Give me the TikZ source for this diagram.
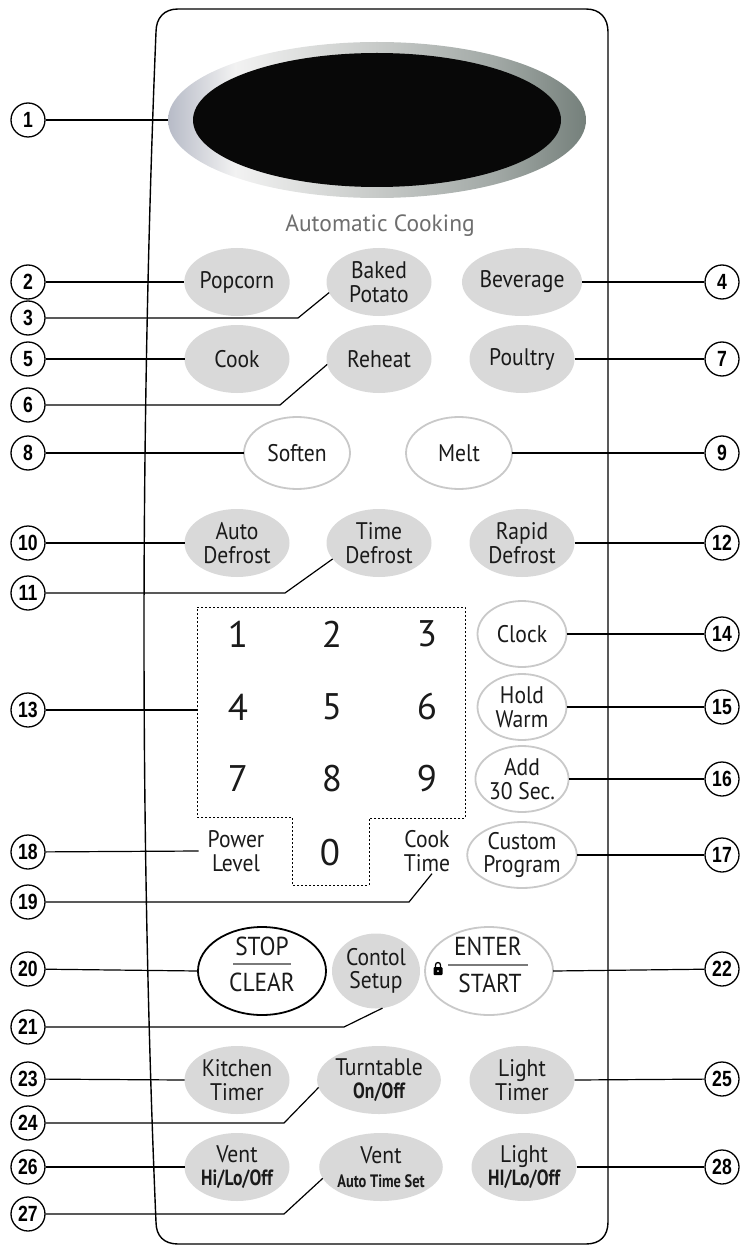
\documentclass[tikz,border=0pt]{standalone}
\usepackage{fontspec}
\setmainfont{PT Sans}
\newfontfamily\keyfamily{PT Sans}[FakeStretch=0.9]
\newfontfamily\narrowfont{PT Sans}[FakeStretch=0.8]
\newfontfamily\calloutfont{Liberation Sans}[FakeStretch=0.8]
\usetikzlibrary{shapes.geometric}

\definecolor{keygray}{HTML}{D9D9D9}
\definecolor{rimgray}{HTML}{C9C9C9}
\definecolor{keytext}{HTML}{1A1A1A}
\definecolor{titlegray}{HTML}{6E6E6E}
\definecolor{bargray}{HTML}{7A7A7A}
\definecolor{ringleft}{HTML}{B7BBC7}
\definecolor{ringlight}{HTML}{F2F2F2}
\definecolor{ringmid}{HTML}{C7CAC8}
\definecolor{ringshadow}{HTML}{A2A9A6}
\definecolor{ringdark}{HTML}{75807B}

\pgfdeclarehorizontalshading{ringshade}{100bp}{color(0bp)=(ringleft); color(25bp)=(ringleft);
  color(33bp)=(ringlight); color(50bp)=(ringmid); color(64bp)=(ringshadow);
  color(75bp)=(ringdark); color(100bp)=(ringdark)}

\newcommand\keyfont{\keyfamily\fontsize{24}{23.5}\selectfont}
\newcommand\boldkey{\narrowfont\bfseries\fontsize{22}{23}\selectfont}

\begin{document}
\begin{tikzpicture}[
    x=1pt, y=-1pt,
    key/.style={ellipse, fill=keygray, minimum width=105pt, minimum height=68pt,
                inner sep=0pt, outer sep=0pt, align=center, text=keytext, font=\keyfont},
    softkey/.style={key, fill=white, draw=rimgray, line width=1.8pt},
    sidekey/.style={softkey, minimum width=89pt, minimum height=66pt},
    bigkey/.style={softkey, minimum width=128pt, minimum height=88pt},
    keylabel/.style={align=center, text=keytext, font=\keyfont, inner xsep=9pt, inner ysep=2pt},
    bigtext/.style={keylabel, anchor=base, font=\keyfamily\fontsize{26}{26}\selectfont},
    digit/.style={text=keytext, font=\fontsize{37}{37}\selectfont, inner sep=0pt},
    callout/.style={circle, draw, line width=1.3pt, minimum size=34pt, inner sep=0pt,
                    font=\calloutfont\bfseries\fontsize{22}{22}\selectfont},
    lead/.style={line width=1.2pt},
    bar/.style={draw=bargray, line width=2.4pt}
]
\useasboundingbox (0,0) rectangle (740,1246);

% === PANEL ===
\draw[line width=1.4pt] (178,9) -- (586,9) .. controls (600,9) and (608,18) .. (608,32)
  -- (608,1222) .. controls (608,1236) and (600,1244) .. (586,1244)
  -- (178,1244) .. controls (164,1244) and (156,1236) .. (156,1222)
  .. controls (140,850) and (140,420) .. (156,32)
  .. controls (156,18) and (164,9) .. (178,9) -- cycle;

% === DISPLAY ===
\node[ellipse, shade, shading=ringshade, minimum width=418pt, minimum height=156pt,
      inner sep=0pt, outer sep=0pt] (ring) at (377,120) {};
\node[ellipse, fill=black!97, minimum width=368pt, minimum height=134pt,
      inner sep=0pt] (screen) at (377,120) {};
\node[text=titlegray, font=\fontsize{23.5}{23.5}\selectfont] (auto) at (380,226) {Automatic Cooking};

% === AUTOMATIC COOKING KEYS ===
\node[key] (pop) at (237,282) {Popcorn};
\node[key] (bake) at (379,282) {Baked\\Potato};
\node[key] (bev) at (522,282) {Beverage};
\node[key] (cook) at (237,359) {Cook};
\node[key] (reheat) at (379,359) {Reheat};
\node[key] (poul) at (522,359) {Poultry};
\node[softkey, minimum width=106pt, minimum height=72pt] (soft) at (297,453) {Soften};
\node[softkey, minimum width=106pt, minimum height=72pt] (melt) at (459,453) {Melt};
\node[key] (adef) at (237,543) {Auto\\Defrost};
\node[key] (tdef) at (379,543) {Time\\Defrost};
\node[key] (rdef) at (522,543) {Rapid\\Defrost};

% === NUMBER PAD ===
\draw[line width=1pt, dash pattern=on 2pt off 2pt] (197,607) -- (465,607) -- (465,818)
  -- (369,818) -- (369,885) -- (292,885) -- (292,817) -- (197,817) -- cycle;
\coordinate (padW) at (197,710);
\foreach \d/\x/\y in {1/238/634, 2/332/634, 3/427/634, 4/238/707, 5/332/707, 6/427/707,
                      7/238/779, 8/332/779, 9/427/779, 0/330/853}
  \node[digit] (d\d) at (\x,\y) {\d};
\node[keylabel] (power) at (236,851) {Power\\Level};
\node[keylabel] (ctime) at (427,851) {Cook\\Time};

\node[sidekey] (clock) at (522,634) {Clock};
\node[sidekey] (hold) at (522,707) {Hold\\Warm};
\node[sidekey] (add) at (522,779) {Add\\30 Sec.};
\node[sidekey] (custom) at (522,855) {Custom\\Program};

% === STOP / SETUP / START ===
\node[bigkey, draw=black] (stop) at (262,971) {};
\node[bigtext] (stopA) at (262,955) {STOP};
\node[bigtext] (stopB) at (262,991) {CLEAR};
\draw[bar] (233,964) -- (291,964);
\node[key, minimum width=88pt, minimum height=75pt] (setup) at (376,971) {Contol\\Setup};
\node[bigkey] (enter) at (489,971) {};
\node[bigtext] (enterA) at (488,955) {ENTER};
\node[bigtext] (enterB) at (490,992) {START};
\draw[bar] (448,965) -- (528,965);
% padlock
\fill[rounded corners=1pt] (433.5,967) rectangle (442.5,975);
\draw[line width=1.3pt] (435.5,967.5) -- (435.5,965) arc[start angle=180, end angle=0, radius=2.5pt] -- (440.5,967.5);
\fill[white] (438,971) circle (1pt);

% === TIMER / VENT KEYS ===
\node[key] (ktimer) at (237,1080) {Kitchen\\Timer};
\node[key] (turn) at (379,1080) {Turntable\\{\boldkey On/Off}};
\node[key] (ltimer) at (522,1080) {Light\\Timer};
\node[key] (vent) at (237,1167) {Vent\\{\boldkey Hi/Lo/Off}};
\node[key] (vauto) at (381,1167) {Vent\\{\narrowfont\bfseries\fontsize{18}{23}\selectfont Auto Time Set}};
\node[key] (light) at (524,1167) {Light\\{\boldkey HI/Lo/Off}};

% === CALLOUTS ===
\foreach \n/\y in {1/120, 2/282, 3/318, 5/359, 6/405, 8/453, 10/543, 11/593, 13/710,
                   18/852, 19/902, 20/969, 21/1027, 23/1079, 24/1123, 26/1167, 27/1214}
  \node[callout] (n\n) at (28,\y) {\n};
\foreach \n/\y in {4/282, 7/359, 9/453, 12/543, 14/634, 15/707, 16/779, 17/855,
                   22/969, 25/1079, 28/1167}
  \node[callout] (n\n) at (722,\y) {\n};

% === LEADERS ===
\draw[lead] (n1) -- (ring.west);
\draw[lead] (n2) -- (pop.west);
\draw[lead] (n3) -- (298,318) -- (bake.192);
\draw[lead] (bev.east) -- (n4);
\draw[lead] (n5) -- (cook.west);
\draw[lead] (n6) -- (280,405) -- (reheat.186);
\draw[lead] (poul.east) -- (n7);
\draw[lead] (n8) -- (soft.west);
\draw[lead] (melt.east) -- (n9);
\draw[lead] (n10) -- (adef.west);
\draw[lead] (n11) -- (285,593) -- (tdef.199);
\draw[lead] (rdef.east) -- (n12);
\draw[lead] (n13) -- (padW);
\draw[lead] (clock.east) -- (n14);
\draw[lead] (hold.east) -- (n15);
\draw[lead] (add.east) -- (n16);
\draw[lead] (custom.east) -- (n17);
\draw[lead] (n18) -- (power.west);
\draw[lead] (n19) -- (409,902) -- ([xshift=5pt]ctime.south);
\draw[lead] (n20) -- (stop.west);
\draw[lead] (n21) -- (344,1027) -- (setup.280);
\draw[lead] (enter.east) -- (n22);
\draw[lead] (n23) -- (ktimer.west);
\draw[lead] (n24) -- (284,1123) -- (turn.187);
\draw[lead] (ltimer.east) -- (n25);
\draw[lead] (n26) -- (vent.west);
\draw[lead] (n27) -- (284,1214) -- (vauto.191);
\draw[lead] (light.east) -- (n28);

\end{tikzpicture}
\end{document}
